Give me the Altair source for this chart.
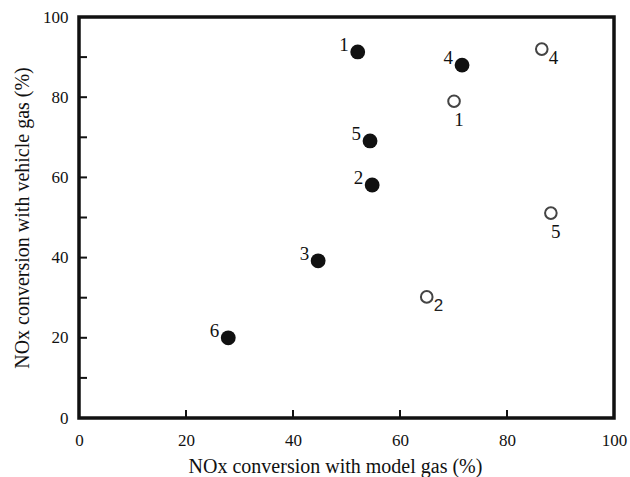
import altair as alt
import pandas as pd

# filled circles (catalyst samples)
filled_labels = ["1", "4", "5", "2", "3", "6"]
filled_model = [52.1, 71.6, 54.4, 54.8, 44.7, 27.9]
filled_vehicle = [91.3, 88.0, 69.1, 58.1, 39.2, 20.0]

# open circles
open_labels = ["4", "1", "5", "2"]
open_model = [86.5, 70.1, 88.2, 65.0]
open_vehicle = [92.0, 79.0, 51.1, 30.2]

x_ticks = [20, 40, 60, 80]
y_ticks = [10, 20, 30, 40, 50, 60, 70, 80, 90]
axis_values = [0, 20, 40, 60, 80, 100]

filled = pd.DataFrame({"model": filled_model, "vehicle": filled_vehicle, "label": filled_labels})
opened = pd.DataFrame({"model": open_model, "vehicle": open_vehicle, "label": open_labels})
xt = pd.DataFrame({"v": x_ticks})
yt = pd.DataFrame({"v": y_ticks})

FONT = "Liberation Serif"
W, H = 535, 401

xscale = alt.Scale(domain=[0, 100], nice=False, zero=False)
yscale = alt.Scale(domain=[0, 100], nice=False, zero=False)

xaxis = alt.Axis(values=axis_values, title="NOx conversion with model gas (%)", grid=False,
                 ticks=False, domain=False, labelFont=FONT, labelFontSize=17, labelColor="#111",
                 labelPadding=14, titleFont=FONT, titleFontSize=20, titleFontWeight="normal",
                 titleColor="#111", titlePadding=8, labelFlush=False, titleX=256, titleAlign="center")
yaxis = alt.Axis(values=axis_values, title="NOx conversion with vehicle gas (%)", grid=False,
                 ticks=False, domain=False, labelFont=FONT, labelFontSize=17, labelColor="#111",
                 labelPadding=11, titleFont=FONT, titleFontSize=20, titleFontWeight="normal",
                 titleColor="#111", titlePadding=10)

base_f = alt.Chart(filled)
pts_f = base_f.mark_point(filled=True, shape="circle", size=220, color="#111", opacity=1).encode(
    x=alt.X("model:Q", scale=xscale, axis=xaxis),
    y=alt.Y("vehicle:Q", scale=yscale, axis=yaxis),
)
txt_f = base_f.mark_text(font=FONT, fontSize=19, color="#111", align="right", dx=-9, dy=-7).encode(
    x=alt.X("model:Q", scale=xscale), y=alt.Y("vehicle:Q", scale=yscale), text="label:N")

base_o = alt.Chart(opened)
pts_o = base_o.mark_point(filled=False, shape="circle", size=135, color="#444", strokeWidth=2, opacity=1).encode(
    x=alt.X("model:Q", scale=xscale), y=alt.Y("vehicle:Q", scale=yscale))
txt_o_right = base_o.transform_filter(alt.FieldEqualPredicate(field="label", equal="4")).mark_text(
    font=FONT, fontSize=19, color="#111", align="left", dx=7, dy=9).encode(
    x=alt.X("model:Q", scale=xscale), y=alt.Y("vehicle:Q", scale=yscale), text="label:N")
txt_o_sans = base_o.transform_filter(alt.FieldEqualPredicate(field="label", equal="2")).mark_text(
    font="Liberation Sans", fontSize=17, color="#222", align="left", dx=7, dy=9).encode(
    x=alt.X("model:Q", scale=xscale), y=alt.Y("vehicle:Q", scale=yscale), text="label:N")
txt_o_below = base_o.transform_filter(alt.FieldOneOfPredicate(field="label", oneOf=["1", "5"])).mark_text(
    font=FONT, fontSize=19, color="#111", align="center", dx=5, dy=19).encode(
    x=alt.X("model:Q", scale=xscale), y=alt.Y("vehicle:Q", scale=yscale), text="label:N")

xt_marks = alt.Chart(xt).mark_rule(color="#111", strokeWidth=2).encode(
    x=alt.X("v:Q", scale=xscale), y=alt.value(H), y2=alt.value(H - 8))
yt_marks = alt.Chart(yt).mark_rule(color="#111", strokeWidth=2).encode(
    y=alt.Y("v:Q", scale=yscale), x=alt.value(0), x2=alt.value(8))

chart = alt.layer(xt_marks, yt_marks, pts_f, txt_f, pts_o, txt_o_right, txt_o_sans, txt_o_below).properties(
    width=W, height=H,
    autosize=alt.AutoSizeParams(type="none"),
    padding={"left": 79, "top": 17, "right": 16, "bottom": 59},
    background="white",
).configure_view(stroke="#111", strokeWidth=3.5)

chart.save("out.html", embed_options={"renderer": "svg", "actions": False})
